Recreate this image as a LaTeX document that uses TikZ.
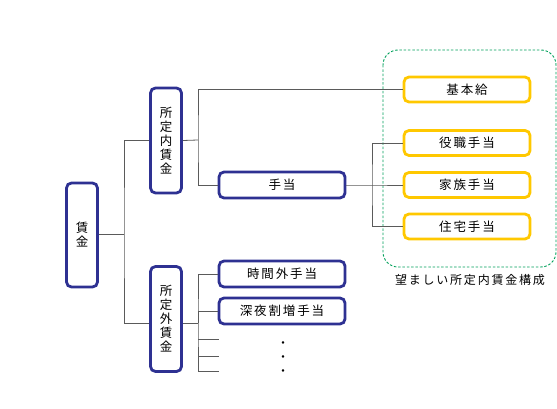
\documentclass[tikz,border=0pt]{standalone}
\usepackage{fontspec}
\setmainfont{Noto Sans CJK JP}[LetterSpace=15]
\usetikzlibrary{positioning}
\definecolor{wageblue}{RGB}{46,49,146}
\definecolor{itemyellow}{RGB}{255,200,0}
\definecolor{framegreen}{RGB}{0,160,90}
\definecolor{conngray}{RGB}{90,90,90}
\begin{document}
\begin{tikzpicture}[x=1pt,y=-1pt,
    wagebox/.style={draw=wageblue, line width=2.8pt, rounded corners=5pt, fill=white, inner sep=0pt,
        font=\fontsize{12.5}{14}\selectfont, align=center},
    vbox/.style={wagebox, minimum width=31pt, minimum height=105pt},
    hbox/.style={wagebox, minimum width=126pt, minimum height=26pt},
    itembox/.style={draw=itemyellow, line width=2.8pt, rounded corners=5pt, fill=white, inner sep=0pt,
        minimum width=126pt, minimum height=25pt, font=\fontsize{12.5}{14}\selectfont},
    conn/.style={draw=conngray, line width=0.8pt},
    frame/.style={draw=framegreen, line width=0.9pt, dash pattern=on 2.5pt off 1.8pt, rounded corners=15pt}]
    \useasboundingbox (0,0) rectangle (557,409);

    % preferred composition
    \draw[frame] (383,50) rectangle (556,267);
    \node (caption) at (470,280) {\fontsize{12}{14}\selectfont 望ましい所定内賃金構成};

    \node[vbox, minimum height=104pt] (wage) at (82,235) {賃\\金};
    \node[vbox] (shonai) at (166,140.5) {所\\定\\内\\賃\\金};
    \node[vbox] (shogai) at (166,319) {所\\定\\外\\賃\\金};

    \node[hbox] (teate) at (282,185) {手当};
    \node[hbox] (jikan) at (282,274) {時間外手当};
    \node[hbox] (shinya) at (282,311) {深夜割増手当};
    \node[align=center, font=\fontsize{12}{14}\selectfont] (dots) at (283,359) {・\\・\\・};

    \node[itembox] (kihon) at (467,89.5) {基本給};
    \node[itembox] (yakushoku) at (467,143) {役職手当};
    \node[itembox] (kazoku) at (467,185) {家族手当};
    \node[itembox] (jutaku) at (467,226.5) {住宅手当};

    \coordinate (bA) at (124,234);
    \coordinate (bB) at (198,140);
    \coordinate (bC) at (372,185);
    \coordinate (bD) at (198,323);
    \coordinate (e1) at (219,339);
    \coordinate (e2) at (219,356);
    \coordinate (e3) at (219,371);

    \draw[conn] (wage.east |- bA) -- (bA);
    \draw[conn] (shonai.west) -| (bA) |- (shogai.west |- bD);
    \draw[conn] (shonai.east) -- (bB);
    \draw[conn] (kihon.west) -| (bB) |- (teate.west);
    \draw[conn] (teate.east) -- (bC) -- (kazoku.west);
    \draw[conn] (yakushoku.west) -| (bC) |- (jutaku.west);
    \draw[conn] (shogai.east |- bD) -- (bD);
    \draw[conn] (jikan.west) -| (bD) |- (e3);
    \draw[conn] (shinya.west) -| (bD);
    \draw[conn] (e1 -| bD) -- (e1);
    \draw[conn] (e2 -| bD) -- (e2);
\end{tikzpicture}
\end{document}
